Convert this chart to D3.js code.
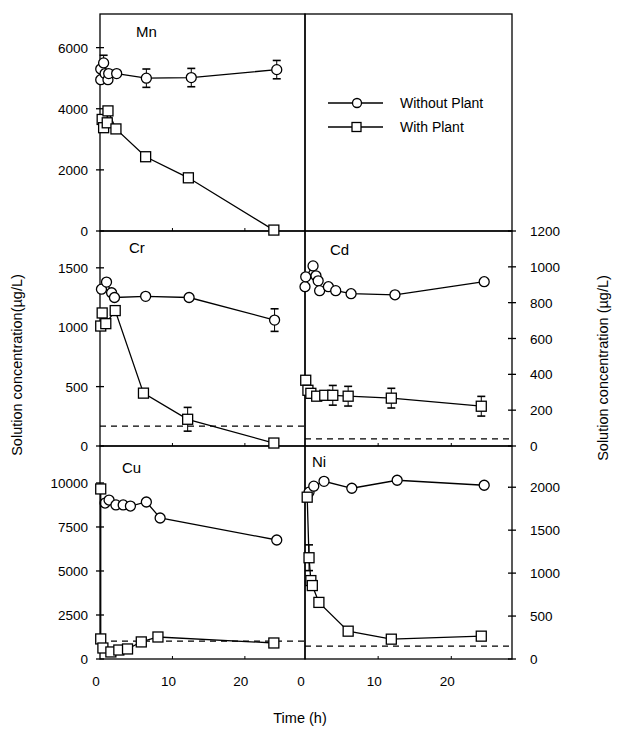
<!DOCTYPE html>
<html>
<head>
<meta charset="utf-8">
<script src="https://cdn.jsdelivr.net/npm/d3@7"></script>
<style>
  body { margin: 0; background: #fff; }
  svg { font-family: "Liberation Sans", Arial, sans-serif; }
</style>
</head>
<body>
<svg width="618" height="735"></svg>
<script>
// [time (h), concentration (ug/L), error]
const mnWithout = [[0.1,4950,0],[0.1,5300,0],[0.5,5500,250],[0.7,5150,0],[1.1,4950,0],[1.2,5150,0],[2.3,5150,0],[6.4,5000,300],[12.6,5020,300],[24.4,5280,300]];
const mnWith = [[0.3,3650,0],[0.5,3380,0],[1.0,3540,0],[1.1,3930,0],[2.2,3340,0],[6.3,2430,0],[12.2,1740,0],[24.0,30,0]];
const crWithout = [[0.2,1320,0],[0.9,1380,0],[1.6,1290,0],[2.0,1250,0],[6.3,1260,0],[12.3,1250,0],[24.1,1060,95]];
const crWith = [[0.1,1010,0],[0.3,1120,0],[0.8,1030,0],[2.1,1140,0],[6.0,445,0],[12.1,225,100],[24.0,25,0]];
const cuWithout = [[0.7,8860,0],[1.25,9030,0],[2.2,8750,0],[3.2,8750,0],[4.2,8690,0],[6.4,8920,0],[8.3,8010,0],[24.4,6760,0]];
const cuWith = [[0.1,9660,0],[0.1,1140,0],[0.4,625,0],[1.5,400,0],[2.6,510,0],[3.8,570,0],[5.7,970,0],[8.0,1250,0],[24.0,910,0]];
const cdWithout = [[0.0,889,0],[0.1,944,0],[1.1,1005,0],[1.5,950,0],[1.8,922,0],[2.0,867,0],[3.2,889,0],[4.2,867,0],[6.3,850,0],[12.3,844,0],[24.5,917,0]];
const cdWith = [[0.1,367,0],[0.4,311,0],[0.8,294,0],[1.6,278,0],[2.7,283,0],[3.8,283,55],[5.9,278,55],[11.8,267,55],[24.1,222,55]];
const niWithout = [[0.55,1942,0],[1.2,2012,0],[2.6,2069,0],[6.4,1988,0],[12.6,2081,0],[24.5,2023,0]];
const niWith = [[0.3,1884,0],[0.55,1179,150],[0.8,913,0],[1.0,855,0],[1.9,659,0],[5.9,324,0],[11.8,231,0],[24.1,266,0]];

// detection limits (dashed lines)
const limits = {Cr: 168, Cu: 1020, Cd: 40, Ni: 150};

const timeTicks = [0, 10, 20];
const mnTicks = [0, 2000, 4000, 6000];
const crTicks = [0, 500, 1000, 1500];
const cuTicks = [0, 2500, 5000, 7500, 10000];
const cdTicks = [0, 200, 400, 600, 800, 1000, 1200];
const niTicks = [0, 500, 1000, 1500, 2000];

const svg = d3.select('svg');
const colX = [[100, 305], [305, 512]];
const rowY = [[14, 231], [231, 446], [446, 659]];

const panels = [
  {name: 'Mn', col: 0, row: 0, max: 7100, ticks: mnTicks, without: mnWithout, with: mnWith, lx: 136, ly: 37},
  {name: 'Cr', col: 0, row: 1, max: 1810, ticks: crTicks, without: crWithout, with: crWith, lx: 129, ly: 253},
  {name: 'Cu', col: 0, row: 2, max: 12100, ticks: cuTicks, without: cuWithout, with: cuWith, lx: 122, ly: 473},
  {name: 'Cd', col: 1, row: 1, max: 1200, ticks: cdTicks, without: cdWithout, with: cdWith, lx: 330, ly: 255},
  {name: 'Ni', col: 1, row: 2, max: 2480, ticks: niTicks, without: niWithout, with: niWith, lx: 312, ly: 467}
];

// frames
colX.forEach((cx, c) => rowY.forEach(ry => {
  svg.append('rect')
    .attr('x', cx[0]).attr('y', ry[0])
    .attr('width', cx[1] - cx[0]).attr('height', ry[1] - ry[0])
    .attr('fill', 'none').attr('stroke', '#000').attr('stroke-width', 1.3);
}));

panels.forEach(p => {
  const x = d3.scaleLinear().domain([0, 28.3]).range(colX[p.col]);
  const y = d3.scaleLinear().domain([0, p.max]).range([rowY[p.row][1], rowY[p.row][0]]);
  const g = svg.append('g');
  const axisX = p.col === 0 ? colX[0][0] : colX[1][1];

  // y ticks crossing the axis
  g.selectAll('.yt').data(p.ticks).enter().append('line')
    .attr('x1', axisX - 4).attr('x2', axisX + 4)
    .attr('y1', d => y(d)).attr('y2', d => y(d))
    .attr('stroke', '#000').attr('stroke-width', 1.3);
  g.selectAll('.yl').data(p.ticks).enter().append('text')
    .attr('x', p.col === 0 ? axisX - 12 : axisX + 18)
    .attr('y', d => y(d) + 5)
    .attr('text-anchor', p.col === 0 ? 'end' : 'start')
    .attr('font-size', 13.5)
    .text(d => d);

  // x ticks on bottom edge
  g.selectAll('.xt').data(timeTicks.slice(1)).enter().append('line')
    .attr('x1', d => x(d)).attr('x2', d => x(d))
    .attr('y1', rowY[p.row][1]).attr('y2', rowY[p.row][1] - 3)
    .attr('stroke', '#000');
  if (p.row === 2) {
    g.selectAll('.xl').data(timeTicks).enter().append('text')
      .attr('x', d => x(d) - 4).attr('y', 686)
      .attr('text-anchor', 'middle').attr('font-size', 13.5)
      .text(d => d);
  }

  if (limits[p.name] !== undefined) {
    g.append('line')
      .attr('x1', colX[p.col][0]).attr('x2', colX[p.col][1])
      .attr('y1', y(limits[p.name])).attr('y2', y(limits[p.name]))
      .attr('stroke', '#000').attr('stroke-width', 1.3).attr('stroke-dasharray', '6,5');
  }

  const line = d3.line().x(d => x(d[0])).y(d => y(d[1]));
  [p.without, p.with].forEach((series, si) => {
    g.append('path').datum(series).attr('d', line)
      .attr('fill', 'none').attr('stroke', '#000').attr('stroke-width', 1.3);
    const eb = series.filter(d => d[2] > 0);
    eb.forEach(d => {
      [d[1] + d[2], d[1] - d[2]].forEach(v => {
        g.append('line')
          .attr('x1', x(d[0]) - 4).attr('x2', x(d[0]) + 4)
          .attr('y1', y(v)).attr('y2', y(v))
          .attr('stroke', '#000').attr('stroke-width', 1.6);
      });
      g.append('line')
        .attr('x1', x(d[0])).attr('x2', x(d[0]))
        .attr('y1', y(d[1] + d[2])).attr('y2', y(d[1] - d[2]))
        .attr('stroke', '#000');
    });
    if (si === 0) {
      g.selectAll(null).data(series).enter().append('circle')
        .attr('cx', d => x(d[0])).attr('cy', d => y(d[1])).attr('r', 5)
        .attr('fill', '#fff').attr('stroke', '#000').attr('stroke-width', 1.3);
    } else {
      g.selectAll(null).data(series).enter().append('rect')
        .attr('x', d => x(d[0]) - 5).attr('y', d => y(d[1]) - 5)
        .attr('width', 10).attr('height', 10)
        .attr('fill', '#fff').attr('stroke', '#000').attr('stroke-width', 1.3);
    }
  });

  g.append('text').attr('x', p.lx).attr('y', p.ly)
    .attr('font-size', 15).text(p.name);
});

// legend
const legend = svg.append('g');
[['Without Plant', 103], ['With Plant', 127]].forEach(([label, ly], i) => {
  legend.append('line').attr('x1', 328).attr('x2', 383).attr('y1', ly).attr('y2', ly)
    .attr('stroke', '#000').attr('stroke-width', 1.3);
  if (i === 0) {
    legend.append('circle').attr('cx', 357).attr('cy', ly).attr('r', 4.5)
      .attr('fill', '#fff').attr('stroke', '#000').attr('stroke-width', 1.3);
  } else {
    legend.append('rect').attr('x', 352).attr('y', ly - 4.5).attr('width', 9).attr('height', 9)
      .attr('fill', '#fff').attr('stroke', '#000').attr('stroke-width', 1.3);
  }
  legend.append('text').attr('x', 400).attr('y', ly + 5).attr('font-size', 14).text(label);
});

// axis titles
svg.append('text').attr('transform', 'translate(22,365) rotate(-90)')
  .attr('text-anchor', 'middle').attr('font-size', 14.5)
  .text('Solution concentration(\u00b5g/L)');
svg.append('text').attr('transform', 'translate(608,368) rotate(-90)')
  .attr('text-anchor', 'middle').attr('font-size', 14.5)
  .text('Solution concentration (\u00b5g/L)');
svg.append('text').attr('x', 300).attr('y', 723)
  .attr('text-anchor', 'middle').attr('font-size', 14.5).text('Time (h)');
</script>
</body>
</html>
